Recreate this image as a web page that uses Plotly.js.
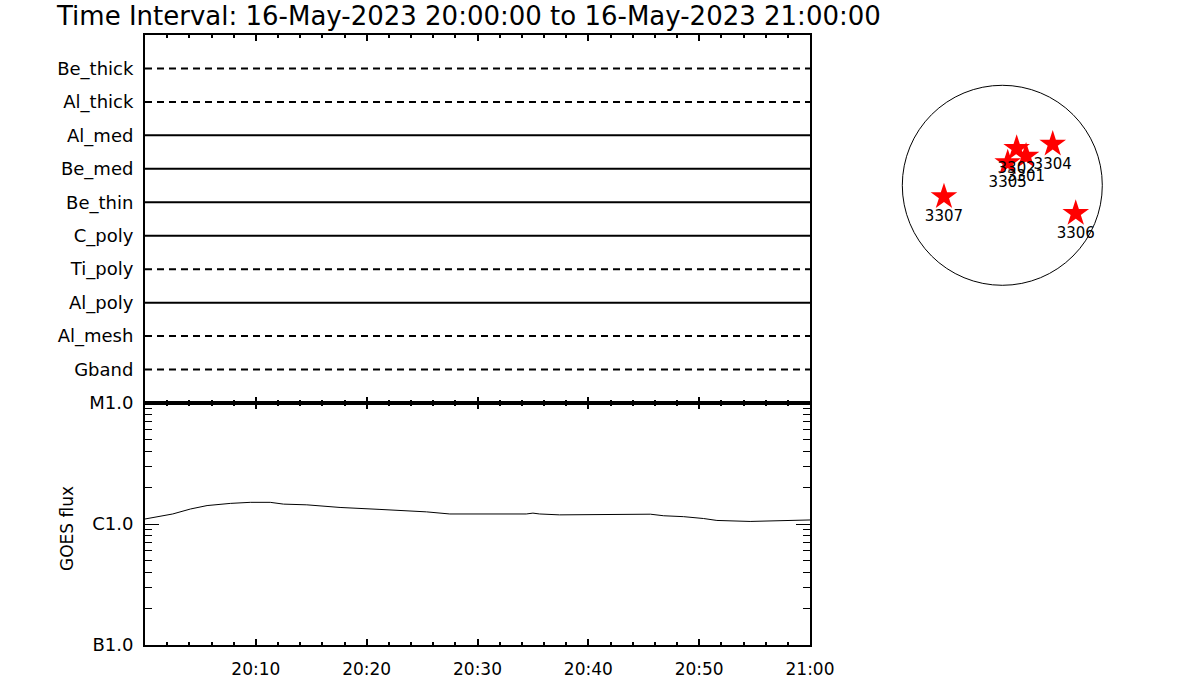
<!DOCTYPE html>
<html>
<head>
<meta charset="utf-8">
<script src="https://cdn.plot.ly/plotly-3.0.1.min.js"></script>
<style>html,body{margin:0;padding:0;background:#fff;}#chart{width:1200px;height:700px;}</style>
</head>
<body>
<div id="chart"></div>
<script>
// ---------------- data ----------------
const titleText = 'Time Interval: 16-May-2023 20:00:00 to 16-May-2023 21:00:00';
const intervalStart = '2023-05-16 20:00:00';
const intervalEnd = '2023-05-16 21:00:00';

// XRT filter rows, top to bottom
const filterNames = ['Be_thick','Al_thick','Al_med','Be_med','Be_thin','C_poly','Ti_poly','Al_poly','Al_mesh','Gband'];
const filterObserved = [false,false,true,true,true,true,false,true,false,false];

// GOES flux (minutes after 20:00, W/m^2)
const goesMinutes = [0, 1.1, 2.5, 4.1, 5.6, 7.7, 9.5, 11.3, 12.5, 14.6, 17.6, 21.2, 25.4, 27.5, 30.2, 34.4, 35.0, 35.6, 37.4, 42.6, 45.6, 46.8, 48.6, 50.4, 51.6, 54.6, 57.6, 60];
const goesFlux = [1.10e-6, 1.14e-6, 1.21e-6, 1.33e-6, 1.42e-6, 1.48e-6, 1.51e-6, 1.51e-6, 1.46e-6, 1.44e-6, 1.37e-6, 1.32e-6, 1.26e-6, 1.21e-6, 1.21e-6, 1.21e-6, 1.23e-6, 1.21e-6, 1.19e-6, 1.205e-6, 1.205e-6, 1.17e-6, 1.15e-6, 1.11e-6, 1.07e-6, 1.05e-6, 1.06e-6, 1.08e-6];

const goesClassVals = [1e-7, 1e-6, 1e-5];
const goesClassLabels = ['B1.0', 'C1.0', 'M1.0'];
const xTickLabels = ['20:10','20:20','20:30','20:40','20:50','21:00'];

// Active regions on the solar disk (arcsec)
const solarRadius = 960;
const arNumbers = ['3301','3302','3304','3305','3306','3307'];
const arX = [228, 138, 484, 52, 705, -560];
const arY = [281, 355, 396, 217, -269, -109];

// ---------------- helpers ----------------
function pad(n){ return (n < 10 ? '0' : '') + n; }
function minToDate(m){
  const s = Math.round(m * 60);
  const hh = 20 + Math.floor(s / 3600);
  const mm = Math.floor((s % 3600) / 60);
  const ss = s % 60;
  return '2023-05-16 ' + pad(hh) + ':' + pad(mm) + ':' + pad(ss);
}
function labelToDate(l){ return '2023-05-16 ' + l + ':00'; }

const FONT = 'DejaVu Sans, sans-serif';
const traces = [];

// filter rows
filterNames.forEach(function(name, i){
  const yv = filterNames.length - i;
  traces.push({
    type: 'scatter', mode: 'lines', xaxis: 'x', yaxis: 'y',
    x: [intervalStart, intervalEnd], y: [yv, yv],
    line: {color: '#000', width: 2, dash: filterObserved[i] ? 'solid' : '7px,5px'},
    hoverinfo: 'skip', showlegend: false
  });
});

// GOES curve
traces.push({
  type: 'scatter', mode: 'lines', xaxis: 'x2', yaxis: 'y2',
  x: goesMinutes.map(minToDate), y: goesFlux,
  line: {color: '#000', width: 1}, showlegend: false
});

// active regions
traces.push({
  type: 'scatter', mode: 'markers+text', xaxis: 'x3', yaxis: 'y3',
  x: arX, y: arY, text: arNumbers,
  textposition: 'bottom center',
  textfont: {family: FONT, size: 15, color: '#000'},
  marker: {symbol: 'star', size: 20, color: '#ff0000', line: {width: 0}},
  showlegend: false, cliponaxis: false
});

const minorY = [];
[1e-7, 1e-6].forEach(function(dec){ for (let k = 2; k <= 9; k++) minorY.push(k * dec); });

const xDom = [145/1200, 810/1200];
const layout = {
  width: 1200, height: 700,
  margin: {l: 0, r: 0, t: 0, b: 0, pad: 0},
  paper_bgcolor: '#fff', plot_bgcolor: '#fff',
  showlegend: false,
  font: {family: FONT, color: '#000'},
  title: {
    text: titleText,
    font: {family: FONT, size: 26, color: '#000'},
    x: 57/1200, xref: 'paper', xanchor: 'left',
    y: 1 - 16/700, yref: 'container', yanchor: 'middle'
  },
  xaxis: {
    domain: xDom, anchor: 'y', type: 'date',
    range: [intervalStart, intervalEnd],
    showgrid: false, zeroline: false,
    showline: true, linecolor: '#000', linewidth: 2, mirror: 'allticks',
    ticks: 'inside', ticklen: 6, tickwidth: 2, tickcolor: '#000',
    tickmode: 'linear', tick0: intervalStart, dtick: 600000,
    showticklabels: false,
    minor: {ticks: 'inside', ticklen: 3, tickwidth: 2, tickcolor: '#000', tick0: intervalStart, dtick: 120000, showgrid: false}
  },
  yaxis: {
    domain: [297/700, 665/700], anchor: 'x',
    range: [0, filterNames.length + 1],
    showgrid: false, zeroline: false,
    showline: true, linecolor: '#000', linewidth: 2, mirror: true,
    ticks: '', tickmode: 'array',
    tickvals: filterNames.map(function(n, i){ return filterNames.length - i; }),
    ticktext: filterNames,
    tickfont: {family: FONT, size: 18, color: '#000'},
    ticklabelstandoff: 6
  },
  xaxis2: {
    domain: xDom, anchor: 'y2', type: 'date',
    range: [intervalStart, intervalEnd],
    showgrid: false, zeroline: false,
    showline: true, linecolor: '#000', linewidth: 2, mirror: 'allticks',
    ticks: 'inside', ticklen: 6, tickwidth: 2, tickcolor: '#000',
    tickmode: 'array',
    tickvals: xTickLabels.map(labelToDate), ticktext: xTickLabels,
    tickfont: {family: FONT, size: 17, color: '#000'},
    ticklabelstandoff: 8,
    minor: {ticks: 'inside', ticklen: 3, tickwidth: 2, tickcolor: '#000', tick0: intervalStart, dtick: 120000, showgrid: false}
  },
  yaxis2: {
    domain: [55/700, 297/700], anchor: 'x2', type: 'log',
    range: [-7, -5],
    showgrid: false, zeroline: false,
    showline: true, linecolor: '#000', linewidth: 2, mirror: 'allticks',
    ticks: 'inside', ticklen: 14, tickwidth: 1, tickcolor: '#000',
    tickmode: 'array', tickvals: goesClassVals, ticktext: goesClassLabels,
    tickfont: {family: FONT, size: 18, color: '#000'},
    ticklabelstandoff: 6,
    minor: {ticks: 'inside', ticklen: 7, tickwidth: 1, tickcolor: '#000', tickmode: 'array', tickvals: minorY, showgrid: false}
  },
  xaxis3: {
    domain: [879.8/1200, 1124.8/1200], anchor: 'y3',
    range: [-1176, 1176], visible: false, showgrid: false, zeroline: false
  },
  yaxis3: {
    domain: [(700 - 310.3)/700, (700 - 60.3)/700], anchor: 'x3',
    range: [-1200, 1200], visible: false, showgrid: false, zeroline: false
  },
  shapes: [{
    type: 'circle', xref: 'x3', yref: 'y3',
    x0: -solarRadius, x1: solarRadius, y0: -solarRadius, y1: solarRadius,
    line: {color: '#000', width: 1}, layer: 'below'
  }],
  annotations: [{
    text: 'GOES flux', xref: 'paper', yref: 'paper',
    x: 67/1200, y: (700 - 529)/700, showarrow: false, textangle: -90,
    font: {family: FONT, size: 17, color: '#000'},
    xanchor: 'center', yanchor: 'middle'
  }]
};

Plotly.newPlot('chart', traces, layout, {staticPlot: true, displayModeBar: false});
</script>
</body>
</html>
